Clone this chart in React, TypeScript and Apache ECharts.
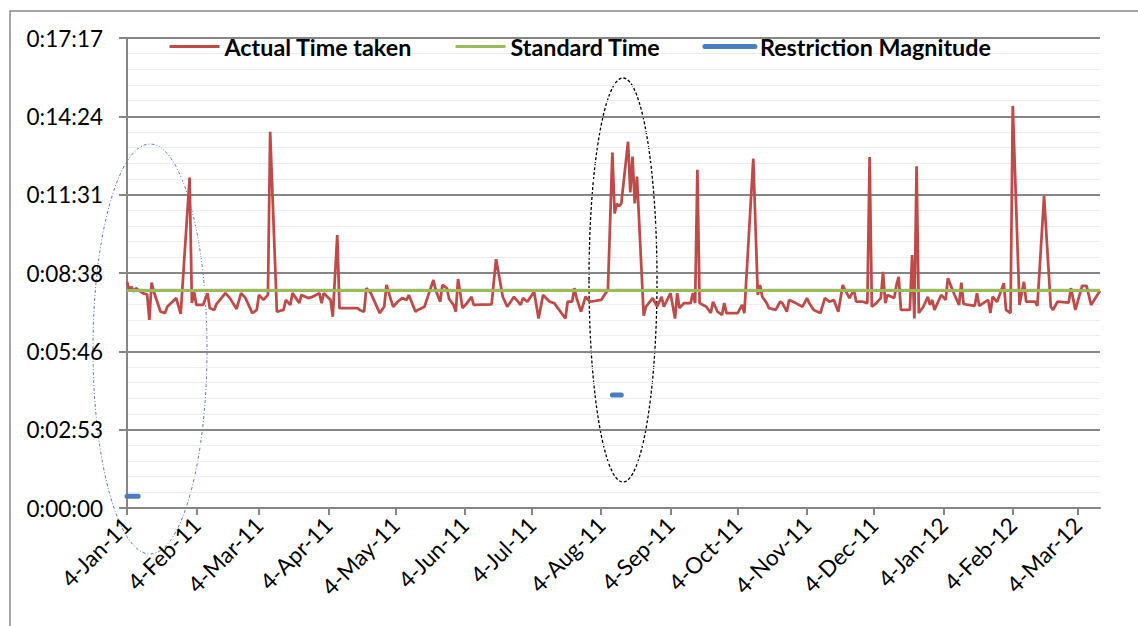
import React, { useEffect, useRef } from "react";
import * as echarts from "echarts";

// Axis range
const AXIS_START = "2011-01-04";
const AXIS_END = "2012-03-14";
const TICK_DAY = 4; // ticks on the 4th of every month

// Y axis (seconds): Excel major unit 0.002 day = 172.8 s
const Y_MAX = 1036.8;
const Y_INTERVAL = 172.8;

// Actual Time taken (seconds)
const actualDates = [
  "2011-01-04", "2011-01-05", "2011-01-06", "2011-01-07", "2011-01-08", "2011-01-09", "2011-01-11", "2011-01-13",
  "2011-01-14", "2011-01-15", "2011-01-16", "2011-01-19", "2011-01-21", "2011-01-22", "2011-01-26", "2011-01-28",
  "2011-02-01", "2011-02-02", "2011-02-03", "2011-02-04", "2011-02-07", "2011-02-09", "2011-02-10", "2011-02-12",
  "2011-02-13", "2011-02-17", "2011-02-19", "2011-02-22", "2011-02-24", "2011-02-26", "2011-03-01", "2011-03-03",
  "2011-03-04", "2011-03-06", "2011-03-08", "2011-03-09", "2011-03-12", "2011-03-15", "2011-03-16", "2011-03-18",
  "2011-03-19", "2011-03-22", "2011-03-23", "2011-03-26", "2011-03-28", "2011-03-31", "2011-04-01", "2011-04-02",
  "2011-04-05", "2011-04-06", "2011-04-08", "2011-04-09", "2011-04-17", "2011-04-18", "2011-04-20", "2011-04-21",
  "2011-04-23", "2011-04-27", "2011-04-29", "2011-04-30", "2011-05-02", "2011-05-03", "2011-05-05", "2011-05-07",
  "2011-05-09", "2011-05-10", "2011-05-13", "2011-05-14", "2011-05-17", "2011-05-19", "2011-05-21", "2011-05-22",
  "2011-05-24", "2011-05-25", "2011-05-27", "2011-05-28", "2011-05-30", "2011-05-31", "2011-06-01", "2011-06-03",
  "2011-06-05", "2011-06-07", "2011-06-08", "2011-06-16", "2011-06-18", "2011-06-21", "2011-06-23", "2011-06-26",
  "2011-06-29", "2011-06-30", "2011-07-02", "2011-07-05", "2011-07-07", "2011-07-09", "2011-07-12", "2011-07-14",
  "2011-07-19", "2011-07-20", "2011-07-22", "2011-07-23", "2011-07-24", "2011-07-26", "2011-07-28", "2011-07-30",
  "2011-08-04", "2011-08-06", "2011-08-07", "2011-08-09", "2011-08-10", "2011-08-11", "2011-08-12", "2011-08-13",
  "2011-08-16", "2011-08-17", "2011-08-18", "2011-08-19", "2011-08-20", "2011-08-23", "2011-08-24", "2011-08-27",
  "2011-08-29", "2011-08-31", "2011-09-01", "2011-09-04", "2011-09-06", "2011-09-07", "2011-09-08", "2011-09-10",
  "2011-09-13", "2011-09-14", "2011-09-15", "2011-09-16", "2011-09-17", "2011-09-20", "2011-09-22", "2011-09-23",
  "2011-09-25", "2011-09-27", "2011-09-28", "2011-09-29", "2011-10-04", "2011-10-06", "2011-10-07", "2011-10-11",
  "2011-10-13", "2011-10-14", "2011-10-15", "2011-10-17", "2011-10-18", "2011-10-21", "2011-10-23", "2011-10-24",
  "2011-10-26", "2011-10-27", "2011-10-30", "2011-11-02", "2011-11-04", "2011-11-05", "2011-11-07", "2011-11-10",
  "2011-11-12", "2011-11-14", "2011-11-16", "2011-11-18", "2011-11-20", "2011-11-21", "2011-11-23", "2011-11-25",
  "2011-11-26", "2011-11-29", "2011-12-01", "2011-12-02", "2011-12-03", "2011-12-05", "2011-12-07", "2011-12-08",
  "2011-12-09", "2011-12-10", "2011-12-13", "2011-12-14", "2011-12-15", "2011-12-16", "2011-12-20", "2011-12-21",
  "2011-12-22", "2011-12-23", "2011-12-24", "2011-12-26", "2011-12-28", "2011-12-29", "2011-12-30", "2011-12-31",
  "2012-01-03", "2012-01-05", "2012-01-06", "2012-01-09", "2012-01-11", "2012-01-12", "2012-01-13", "2012-01-18",
  "2012-01-19", "2012-01-20", "2012-01-24", "2012-01-25", "2012-01-26", "2012-01-28", "2012-01-31", "2012-02-01",
  "2012-02-03", "2012-02-04", "2012-02-07", "2012-02-09", "2012-02-10", "2012-02-14", "2012-02-15", "2012-02-18",
  "2012-02-21", "2012-02-22", "2012-02-24", "2012-02-29", "2012-03-01", "2012-03-03", "2012-03-06", "2012-03-08",
  "2012-03-10", "2012-03-14",
];
const actualSeconds = [
  499, 481, 488, 477, 485, 481, 474, 471,
  415, 497, 477, 433, 430, 444, 463, 428,
  729, 452, 477, 448, 448, 474, 441, 437,
  450, 474, 463, 439, 474, 463, 430, 437,
  470, 459, 470, 830, 433, 437, 459, 448,
  474, 452, 470, 463, 466, 474, 452, 474,
  459, 422, 602, 441, 441, 437, 433, 485,
  474, 430, 444, 492, 459, 444, 455, 463,
  459, 470, 433, 437, 444, 474, 503, 481,
  455, 492, 485, 461, 448, 433, 505, 441,
  452, 466, 448, 449, 549, 466, 444, 466,
  448, 463, 455, 477, 418, 470, 455, 452,
  418, 455, 455, 485, 463, 433, 466, 455,
  459, 474, 481, 784, 650, 671, 666, 672,
  808, 696, 775, 672, 731, 424, 444, 463,
  444, 466, 444, 474, 418, 474, 441, 452,
  452, 474, 452, 746, 452, 444, 430, 455,
  433, 426, 452, 430, 430, 448, 430, 771,
  470, 492, 466, 452, 441, 437, 455, 452,
  433, 459, 452, 444, 463, 452, 437, 430,
  463, 455, 459, 433, 492, 481, 463, 481,
  455, 455, 452, 774, 444, 452, 463, 521,
  452, 470, 463, 492, 510, 437, 437, 558,
  418, 754, 430, 444, 466, 448, 459, 437,
  470, 459, 507, 470, 448, 497, 450, 446,
  474, 446, 459, 430, 466, 455, 496, 437,
  430, 887, 448, 499, 455, 455, 446, 688,
  444, 437, 455, 453, 485, 437, 490, 490,
  448, 479,
];

// Standard Time (seconds)
const standardDates = [AXIS_START, AXIS_END];
const standardSeconds = [480, 480];

// Restriction Magnitude (seconds); null separates the two periods
const restrictionDates = ["2011-01-04", "2011-01-09", "2011-01-10", "2011-08-09", "2011-08-13"];
const restrictionSeconds: (number | null)[] = [26, 26, null, 249, 249];

const MONTHS = ["Jan", "Feb", "Mar", "Apr", "May", "Jun", "Jul", "Aug", "Sep", "Oct", "Nov", "Dec"];

function parseDate(s: string): Date {
  const [y, m, d] = s.split("-").map(Number);
  return new Date(Date.UTC(y, m - 1, d));
}
function fmtDate(dt: Date): string {
  return `${dt.getUTCDate()}-${MONTHS[dt.getUTCMonth()]}-${String(dt.getUTCFullYear()).slice(2)}`;
}
function label(s: string): string {
  return fmtDate(parseDate(s));
}
function buildCategories(): string[] {
  const out: string[] = [];
  const end = parseDate(AXIS_END).getTime();
  for (let t = parseDate(AXIS_START).getTime(); t <= end; t += 86400000) {
    out.push(fmtDate(new Date(t)));
  }
  return out;
}
function fmtTime(v: number): string {
  const s = Math.round(v);
  const h = Math.floor(s / 3600);
  const m = Math.floor((s % 3600) / 60);
  const sec = s % 60;
  return `${h}:${String(m).padStart(2, "0")}:${String(sec).padStart(2, "0")}`;
}

const FONT = "Lato";
const isTickDay = (_i: number, v: string) => v.startsWith(TICK_DAY + "-");

export default function App() {
  const ref = useRef<HTMLDivElement>(null);
  useEffect(() => {
    if (!ref.current) return;
    const chart = echarts.init(ref.current, null, { renderer: "svg" });
    const categories = buildCategories();
    const option = {
      animation: false,
      backgroundColor: "#ffffff",
      grid: { left: 127, right: 38, top: 38, bottom: 118, containLabel: false },
      legend: {
        left: 168,
        top: 35,
        padding: 0,
        itemWidth: 50,
        itemHeight: 14,
        itemGap: 42,
        itemStyle: { opacity: 0 },
        textStyle: { fontFamily: FONT, fontWeight: "bold", fontSize: 23.3, color: "#000" },
        data: [
          { name: "Actual Time taken", lineStyle: { width: 3, color: "#be4b48" } },
          { name: "Standard Time", lineStyle: { width: 3, color: "#9bbb59" } },
          { name: "Restriction Magnitude", lineStyle: { width: 5, color: "#4a7ebb", cap: "round" } },
        ],
      },
      xAxis: {
        type: "category",
        data: categories,
        boundaryGap: false,
        axisLine: { lineStyle: { color: "#868686", width: 2 } },
        axisTick: { show: true, interval: isTickDay, length: 7, lineStyle: { color: "#868686", width: 2 } },
        axisLabel: {
          interval: isTickDay,
          rotate: 45,
          margin: 13,
          fontFamily: FONT,
          fontSize: 22.5,
          color: "#000",
        },
        splitLine: { show: false },
      },
      yAxis: {
        type: "value",
        min: 0,
        max: Y_MAX,
        interval: Y_INTERVAL,
        axisLine: { show: true, lineStyle: { color: "#868686", width: 2 } },
        axisTick: { show: true, length: 8, lineStyle: { color: "#868686", width: 2 } },
        axisLabel: { formatter: (v: number) => fmtTime(v), fontFamily: FONT, fontSize: 22.5, color: "#000", margin: 24 },
        splitLine: { show: true, lineStyle: { color: "#868686", width: 2 } },
        minorTick: { show: false, splitNumber: 5 },
        minorSplitLine: { show: true, lineStyle: { color: "#ececec", width: 1 } },
      },
      series: [
        {
          name: "Actual Time taken",
          type: "line",
          symbol: "none",
          connectNulls: true,
          lineStyle: { color: "#be4b48", width: 2.75 },
          itemStyle: { color: "#be4b48" },
          data: actualDates.map((d, i) => [label(d), actualSeconds[i]]),
          z: 3,
        },
        {
          name: "Standard Time",
          type: "line",
          symbol: "none",
          lineStyle: { color: "#9bbb59", width: 3 },
          itemStyle: { color: "#9bbb59" },
          data: standardDates.map((d, i) => [label(d), standardSeconds[i]]),
          z: 4,
        },
        {
          name: "Restriction Magnitude",
          type: "line",
          symbol: "none",
          connectNulls: false,
          lineStyle: { color: "#4a7ebb", width: 5, cap: "round" },
          itemStyle: { color: "#4a7ebb" },
          data: restrictionDates.map((d, i) => [label(d), restrictionSeconds[i] === null ? "-" : restrictionSeconds[i]]),
          z: 5,
        },
      ],
      graphic: [
        {
          type: "rect",
          silent: true,
          shape: { x: 10, y: 11, width: 1200, height: 700 },
          style: { fill: "none", stroke: "#868686", lineWidth: 1.5 },
        },
        {
          type: "ellipse",
          silent: true,
          shape: { cx: 150, cy: 349, rx: 57, ry: 205 },
          style: { fill: "none", stroke: "#5b7fb5", lineWidth: 1, lineDash: [3, 2, 1, 2] },
        },
        {
          type: "ellipse",
          silent: true,
          shape: { cx: 623, cy: 280, rx: 34, ry: 202 },
          style: { fill: "none", stroke: "#000000", lineWidth: 1.3, lineDash: [3, 2] },
        },
      ],
    };
    chart.setOption(option as any);
    return () => chart.dispose();
  }, []);
  return (
    <div
      ref={ref}
      style={{ position: "absolute", left: 0, top: 0, width: 1138, height: 626, background: "#fff" }}
    />
  );
}
